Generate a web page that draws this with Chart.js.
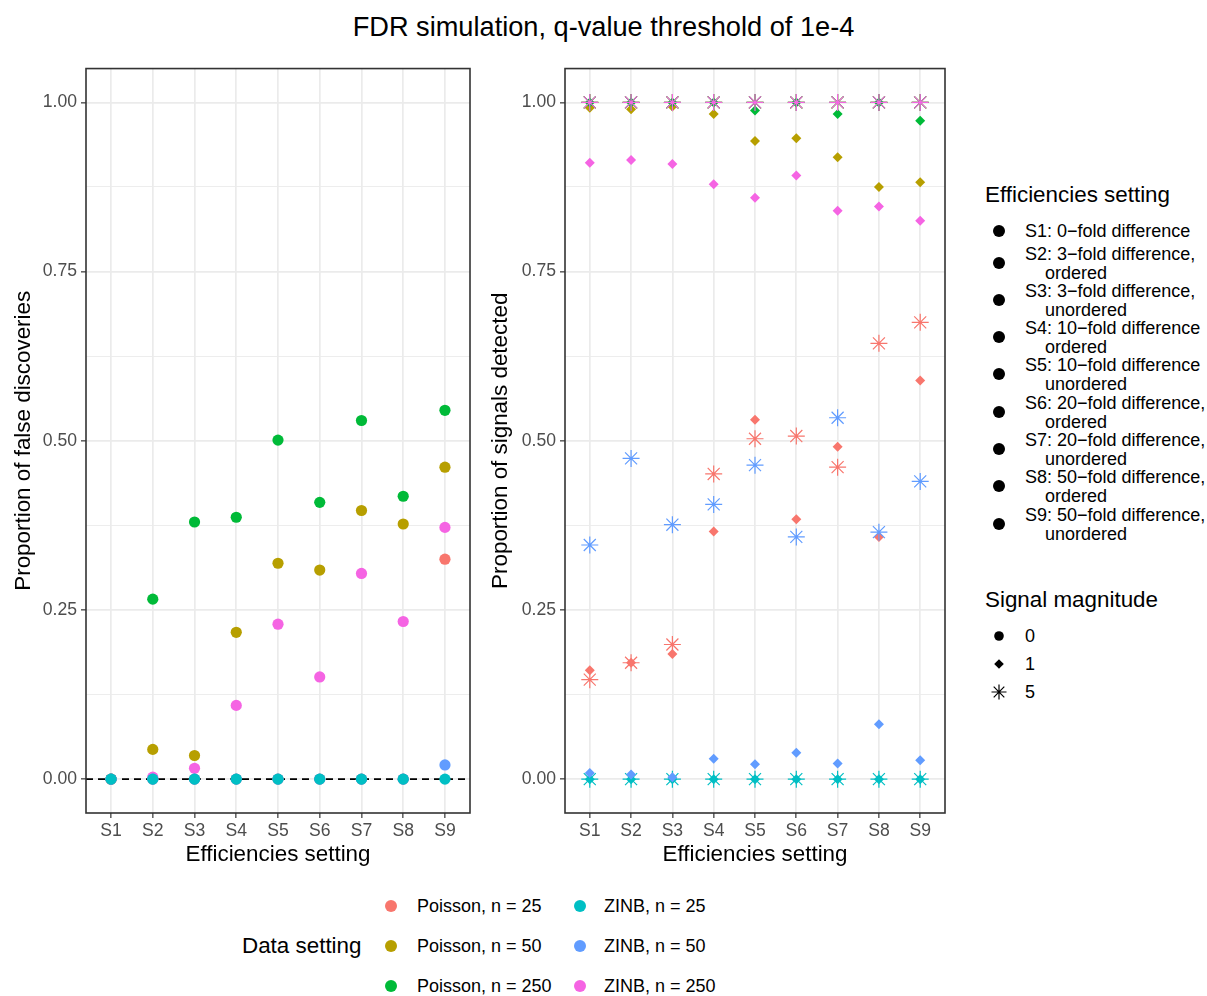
<!DOCTYPE html>
<html>
<head>
<meta charset="utf-8">
<script src="https://cdn.jsdelivr.net/npm/chart.js@4.4.1/dist/chart.umd.min.js"></script>
<style>
  body { margin: 0; background: #fff; font-family: 'Liberation Sans', Arial, Helvetica, sans-serif; }
  #page { position: relative; width: 1207px; height: 996px; overflow: hidden; background: #fff; }
  #title { position: absolute; left: 0; top: 12px; width: 1207px; text-align: center; font-size: 27.2px; line-height: 30px; color: #000; }
  canvas { position: absolute; }
  .lg { position: absolute; color: #000; white-space: pre; }
  .lg-title { font-size: 22.4px; line-height: 26px; }
  .lg-text { font-size: 18px; line-height: 19px; }
  .lg svg { position: absolute; }
</style>
</head>
<body>
<div id="page">
  <div id="title">FDR simulation, q-value threshold of 1e-4</div>
  <canvas id="fdrChart" width="480" height="826" style="left:0px;top:54px"></canvas>
  <canvas id="sigChart" width="475" height="826" style="left:480px;top:54px"></canvas>
  <div id="legends"></div>
</div>
<script>
// categories and legend labels
const categories = ['S1', 'S2', 'S3', 'S4', 'S5', 'S6', 'S7', 'S8', 'S9'];
const dataSettings = ['Poisson, n = 25', 'Poisson, n = 50', 'Poisson, n = 250',
                      'ZINB, n = 25', 'ZINB, n = 50', 'ZINB, n = 250'];
const settingColors = ['#F8766D', '#B79F00', '#00BA38', '#00BFC4', '#619CFF', '#F564E3'];
const effLabels = [
  'S1: 0\u2212fold difference',
  'S2: 3\u2212fold difference,\nordered',
  'S3: 3\u2212fold difference,\nunordered',
  'S4: 10\u2212fold difference\nordered',
  'S5: 10\u2212fold difference\nunordered',
  'S6: 20\u2212fold difference,\nordered',
  'S7: 20\u2212fold difference,\nunordered',
  'S8: 50\u2212fold difference,\nordered',
  'S9: 50\u2212fold difference,\nunordered'
];
const magnitudes = ['0', '1', '5'];

// y axis ticks (major labelled, minor grid only)
const yMajor = [0, 0.25, 0.5, 0.75, 1];
const yMinor = [0.125, 0.375, 0.625, 0.875];
const yMin = -0.05, yMax = 1.05;
const xMin = 0.4, xMax = 9.6;
const refLine = 0;

// left panel: proportion of false discoveries (signal magnitude 0)
const fdPois25  = [0, 0, 0, 0, 0, 0, 0, 0, 0.325];
const fdPois50  = [0, 0.044, 0.035, 0.217, 0.319, 0.309, 0.397, 0.377, 0.461];
const fdPois250 = [0, 0.266, 0.380, 0.387, 0.501, 0.409, 0.530, 0.418, 0.545];
const fdZinb25  = [0, 0, 0, 0, 0, 0, 0, 0, 0];
const fdZinb50  = [0, 0, 0, 0, 0, 0, 0, 0, 0.021];
const fdZinb250 = [0, 0.003, 0.016, 0.109, 0.229, 0.151, 0.304, 0.233, 0.372];

// right panel: proportion of signals detected, magnitude 1 (diamonds)
const sd1Pois25  = [0.161, 0.172, 0.185, 0.366, 0.531, 0.384, 0.491, 0.358, 0.589];
const sd1Pois50  = [0.992, 0.990, 0.994, 0.983, 0.943, 0.947, 0.919, 0.875, 0.882];
const sd1Pois250 = [1, 1, 1, 1, 0.988, 1, 0.983, 1, 0.973];
const sd1Zinb25  = [0, 0, 0, 0, 0, 0, 0, 0, 0];
const sd1Zinb50  = [0.009, 0.007, 0.003, 0.030, 0.022, 0.039, 0.023, 0.081, 0.028];
const sd1Zinb250 = [0.911, 0.915, 0.909, 0.879, 0.859, 0.892, 0.840, 0.846, 0.825];

// magnitude 5 (asterisks)
const sd5Pois25  = [0.147, 0.172, 0.199, 0.451, 0.503, 0.507, 0.461, 0.644, 0.675];
const sd5Pois50  = [1, 1, 1, 1, 1, 1, 1, 1, 1];
const sd5Pois250 = [1, 1, 1, 1, 1, 1, 1, 1, 1];
const sd5Zinb25  = [0, 0, 0, 0, 0, 0, 0, 0, 0];
const sd5Zinb50  = [0.346, 0.474, 0.376, 0.406, 0.464, 0.358, 0.534, 0.365, 0.440];
const sd5Zinb250 = [1, 1, 1, 1, 1, 1, 1, 1, 1];

const family = "'Liberation Sans', Arial, Helvetica, sans-serif";
Chart.defaults.font.family = family;

const pts = vals => vals.map((v, i) => ({ x: i + 1, y: v }));

function markSet(vals, colorIdx, shape) {
  const col = settingColors[colorIdx];
  const ds = { data: pts(vals), pointStyle: shape, backgroundColor: col, borderColor: col };
  if (shape === 'circle') { ds.pointRadius = 5.6; ds.borderWidth = 0; }
  else if (shape === 'rectRot') { ds.pointRadius = 5; ds.borderWidth = 0; }
  else { ds.pointRadius = 8.5; ds.borderWidth = 1.2; }
  return ds;
}

const isMajor = v => yMajor.some(m => Math.abs(m - v) < 1e-9);

function makeScales(yTitle, yWidth, yTitlePad) {
  return {
    x: {
      type: 'linear', min: xMin, max: xMax,
      afterBuildTicks: s => { s.ticks = categories.map((c, i) => ({ value: i + 1 })); },
      afterFit: s => { s.height = 67; },
      ticks: {
        callback: v => categories[Math.round(v) - 1],
        color: '#4D4D4D', font: { size: 17.6 }, padding: 3, maxRotation: 0, autoSkip: false
      },
      grid: { color: '#EBEBEB', lineWidth: 1.7, tickLength: 5, tickColor: '#333333', tickWidth: 1.2 },
      border: { display: false },
      title: { display: true, text: 'Efficiencies setting', color: '#000', font: { size: 22.4 }, padding: { top: 0, bottom: 12 } }
    },
    y: {
      type: 'linear', min: yMin, max: yMax,
      afterBuildTicks: s => {
        s.ticks = yMajor.concat(yMinor).sort((a, b) => a - b).map(v => ({ value: v }));
      },
      afterFit: s => { s.width = yWidth; },
      ticks: {
        callback: v => isMajor(v) ? v.toFixed(2) : '',
        color: '#4D4D4D', font: { size: 17.6 }, padding: 4, autoSkip: false
      },
      grid: {
        color: '#EBEBEB',
        lineWidth: ctx => isMajor(ctx.tick.value) ? 1.7 : 0.9,
        tickLength: 5,
        tickColor: ctx => isMajor(ctx.tick.value) ? '#333333' : 'rgba(0,0,0,0)',
        tickWidth: 1.2
      },
      border: { display: false },
      title: { display: true, text: yTitle, color: '#000', font: { size: 22.4 }, padding: { top: yTitlePad, bottom: 0 } }
    }
  };
}

const panelBorder = {
  id: 'panelBorder',
  afterDatasetsDraw(chart) {
    const { ctx, chartArea: a } = chart;
    ctx.save();
    ctx.strokeStyle = '#333333';
    ctx.lineWidth = 1.6;
    ctx.strokeRect(a.left, a.top, a.right - a.left, a.bottom - a.top);
    ctx.restore();
  }
};

function baseOptions(scales) {
  return {
    responsive: false, animation: false, devicePixelRatio: 1, events: [],
    layout: { padding: { top: 8, right: 10, bottom: 0, left: 0 } },
    plugins: { legend: { display: false }, tooltip: { enabled: false } },
    scales: scales
  };
}

// datasets listed bottom-to-top, reversed because Chart.js draws index 0 last
const leftLayers = [
  { data: [{ x: xMin, y: refLine }, { x: xMax, y: refLine }], showLine: true,
    borderColor: '#000', borderWidth: 1.6, borderDash: [7, 5], pointRadius: 0 },
  markSet(fdPois25, 0, 'circle'),
  markSet(fdPois50, 1, 'circle'),
  markSet(fdPois250, 2, 'circle'),
  markSet(fdZinb250, 5, 'circle'),
  markSet(fdZinb50, 4, 'circle'),
  markSet(fdZinb25, 3, 'circle')
];

new Chart(document.getElementById('fdrChart').getContext('2d'), {
  type: 'scatter',
  data: { datasets: leftLayers.slice().reverse() },
  options: baseOptions(makeScales('Proportion of false discoveries', 86, 10)),
  plugins: [panelBorder]
});

const rightLayers = [
  markSet(sd1Zinb25, 3, 'rectRot'),  markSet(sd5Zinb25, 3, 'star'),
  markSet(sd1Pois50, 1, 'rectRot'),  markSet(sd5Pois50, 1, 'star'),
  markSet(sd1Pois250, 2, 'rectRot'), markSet(sd5Pois250, 2, 'star'),
  markSet(sd1Pois25, 0, 'rectRot'),  markSet(sd5Pois25, 0, 'star'),
  markSet(sd1Zinb50, 4, 'rectRot'),  markSet(sd5Zinb50, 4, 'star'),
  markSet(sd1Zinb250, 5, 'rectRot'), markSet(sd5Zinb250, 5, 'star')
];

new Chart(document.getElementById('sigChart').getContext('2d'), {
  type: 'scatter',
  data: { datasets: rightLayers.slice().reverse() },
  options: baseOptions(makeScales('Proportion of signals detected', 85, 7)),
  plugins: [panelBorder]
});

// ---- legends (HTML) ----
const legendBox = document.getElementById('legends');

function symbol(shape, color, cx, cy, size) {
  const c = 10;
  let body;
  if (shape === 'circle') body = `<circle cx="${c}" cy="${c}" r="${size}" fill="${color}"/>`;
  else if (shape === 'diamond') body = `<polygon points="${c},${c - size} ${c + size},${c} ${c},${c + size} ${c - size},${c}" fill="${color}"/>`;
  else {
    const d = size * Math.SQRT1_2;
    body = `<path d="M${c - size} ${c}H${c + size}M${c} ${c - size}V${c + size}M${c - d} ${c - d}L${c + d} ${c + d}M${c - d} ${c + d}L${c + d} ${c - d}" stroke="${color}" stroke-width="1.2" fill="none"/>`;
  }
  const el = document.createElement('div');
  el.className = 'lg';
  el.style.left = (cx - c) + 'px';
  el.style.top = (cy - c) + 'px';
  el.innerHTML = `<svg width="20" height="20" style="position:static;display:block">${body}</svg>`;
  legendBox.appendChild(el);
}

function text(str, cls, x, top) {
  const el = document.createElement('div');
  el.className = 'lg ' + cls;
  el.style.left = x + 'px';
  el.style.top = top + 'px';
  el.textContent = str;
  legendBox.appendChild(el);
  return el;
}

// Efficiencies setting legend
text('Efficiencies setting', 'lg-title', 985, 182);
effLabels.forEach((lab, i) => {
  const cy = i === 0 ? 231 : 262.5 + (i - 1) * 37.3;
  symbol('circle', '#000', 999, cy, 6);
  const parts = lab.split('\n');
  if (parts.length === 1) {
    text(parts[0], 'lg-text', 1025, cy - 9.5);
  } else {
    text(parts[0], 'lg-text', 1025, cy - 18);
    text(parts[1], 'lg-text', 1045, cy + 1);
  }
});

// Signal magnitude legend
text('Signal magnitude', 'lg-title', 985, 587);
const magShapes = ['circle', 'diamond', 'asterisk'];
const magSizes = [4.8, 4.8, 7.5];
magnitudes.forEach((m, i) => {
  const cy = 636 + i * 28;
  symbol(magShapes[i], '#000', 999, cy, magSizes[i]);
  text(m, 'lg-text', 1025, cy - 9.5);
});

// Data setting legend (bottom)
text('Data setting', 'lg-title', 242, 933);
dataSettings.forEach((lab, i) => {
  const col = Math.floor(i / 3), row = i % 3;
  const cy = 906 + row * 40;
  symbol('circle', settingColors[i], col === 0 ? 391 : 580, cy, 6);
  text(lab, 'lg-text', col === 0 ? 417 : 604, cy - 9.5);
});
</script>
</body>
</html>
